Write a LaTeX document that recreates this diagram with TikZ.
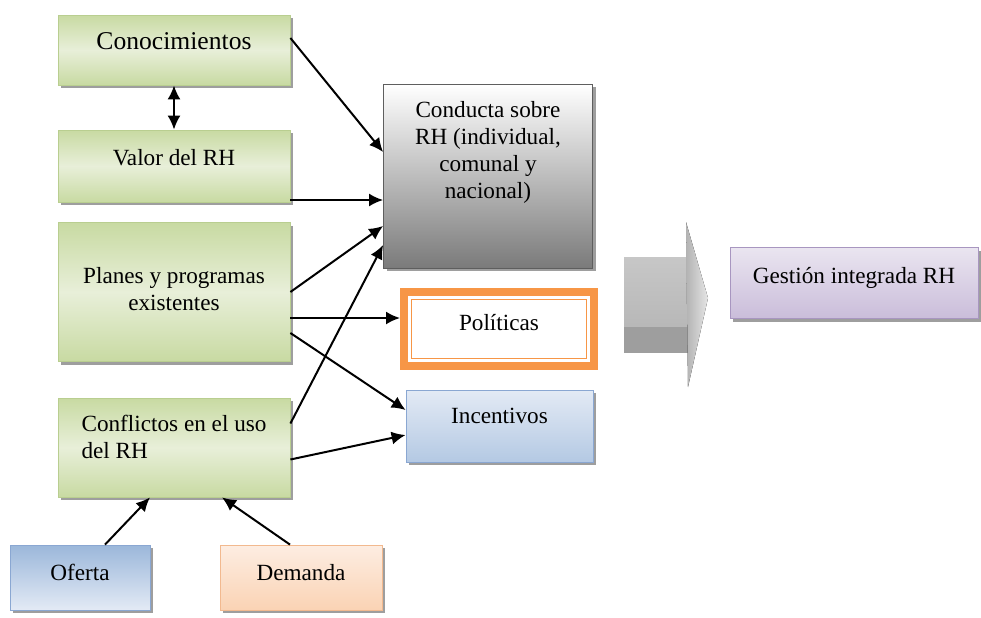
\documentclass[tikz,border=0pt]{standalone}
\usepackage{fontspec}
\setmainfont{Liberation Serif}
\usetikzlibrary{arrows.meta,shadows}

\definecolor{verdeA}{HTML}{C8DAA2}
\definecolor{verdeC}{HTML}{E8EFD9}
\definecolor{verdeB}{HTML}{B9CE90}
\definecolor{grisB}{HTML}{5E5E5E}
\definecolor{naranja}{HTML}{F79646}
\definecolor{azulA}{HTML}{E3EAF5}
\definecolor{azulC}{HTML}{B4C9E3}
\definecolor{azulB}{HTML}{8AA7D2}
\definecolor{azulD}{HTML}{9BB7DA}
\definecolor{durazA}{HTML}{FDEDE2}
\definecolor{durazC}{HTML}{FAD3B4}
\definecolor{durazB}{HTML}{F2B98F}
\definecolor{moradoA}{HTML}{EAE5F0}
\definecolor{moradoC}{HTML}{CABDDA}
\definecolor{moradoB}{HTML}{A896C0}

\begin{document}
\begin{tikzpicture}[x=0.5pt,y=-0.5pt,>={Latex[length=7pt,width=6.5pt]},
		font=\fontsize{11.6}{13.5}\selectfont]
		\tikzstyle{caja} = [rectangle, draw, inner sep=0pt, text height=9pt, align=center,
			drop shadow={shadow xshift=1.5pt, shadow yshift=-1.5pt, fill=black!38, opacity=1}]
		\tikzstyle{verde} = [caja, draw=verdeB, top color=verdeA, bottom color=verdeA, middle color=verdeC, minimum width=116pt]
		\tikzstyle{flecha} = [->, line width=1pt]
		\useasboundingbox (0,0) rectangle (981,617);
		% columna izquierda
		\node (con) [verde, minimum height=35pt, text depth=10pt, font=\fontsize{12.8}{14}\selectfont] at (174,50) {Conocimientos};
		\node (val) [verde, below of=con, node distance=58pt, minimum height=36pt, text depth=10pt] {Valor del RH};
		\node (plan) [verde, below of=val, node distance=63pt, minimum height=69.5pt, text height=18pt, text depth=0pt] {Planes y programas\\existentes};
		\node (conf) [verde, below of=plan, node distance=77.75pt, minimum height=49.5pt, align=left, text height=10.5pt, text depth=0pt] {Conflictos en el uso\\del RH};
		\node (ofe) [caja, draw=azulB, top color=azulD, bottom color=azulA, below of=conf, node distance=65pt, xshift=-47pt, minimum width=70pt, minimum height=32.5pt, text depth=6pt] {Oferta};
		\node (dem) [caja, draw=durazB, top color=durazA, bottom color=durazC, below of=conf, node distance=65pt, xshift=63.5pt, minimum width=81pt, minimum height=32.5pt, text depth=6pt] {Demanda};
		% columna central
		\node (cond) [caja, draw=grisB, top color=white, bottom color=black!52, minimum width=104.5pt, minimum height=92pt, text height=22pt, text depth=0pt] at (488,176) {Conducta sobre\\RH (individual,\\comunal y\\nacional)};
		\node (pol) [rectangle, draw=naranja, line width=4pt, fill=white, minimum width=95pt, minimum height=37pt, text height=9pt, text depth=8pt] at (499,329) {Políticas};
		\draw[naranja, line width=0.8pt] ([xshift=5.75pt,yshift=-5.75pt]pol.north west) rectangle ([xshift=-5.75pt,yshift=5.75pt]pol.south east);
		\node (inc) [caja, draw=azulB, top color=azulA, bottom color=azulC, minimum width=93.5pt, minimum height=36pt, text depth=12pt] at (499.5,426) {Incentivos};
		% flecha grande
		\fill[top color=black!22, bottom color=black!28] (624,257) rectangle (688,327);
		\fill[black!38] (624,327) rectangle (688,353);
		\fill[left color=black!30, right color=black!10] (686,222) -- (708,298) -- (688,387) -- cycle;
		\node (gest) [caja, draw=moradoB, top color=moradoA, bottom color=moradoC, minimum width=124pt, minimum height=35.5pt, text depth=9pt] at (854,283) {Gestión integrada RH};
		% conexiones
		\path[flecha,<->] (con.south) edge (val.north);
		\path[flecha] ([yshift=6pt]con.east) edge ([yshift=12pt]cond.west);
		\path[flecha] ([yshift=-17pt]val.east) edge ([yshift=-12pt]cond.west);
		\path[flecha] (plan.east) edge ([yshift=-25pt]cond.west);
		\path[flecha] ([yshift=-13pt]plan.east) edge ([yshift=5.5pt]pol.west);
		\path[flecha] ([yshift=-20.5pt]plan.east) edge ([yshift=8pt]inc.west);
		\path[flecha] ([yshift=12pt]conf.east) edge ([yshift=-34.5pt]cond.west);
		\path[flecha] ([yshift=-6pt]conf.east) edge ([yshift=-4.5pt]inc.west);
		\path[flecha] ([xshift=12.5pt]ofe.north) edge ([xshift=-12pt]conf.south);
		\path[flecha] ([xshift=-5.5pt]dem.north) edge ([xshift=24pt]conf.south);
	\end{tikzpicture}
\end{document}
